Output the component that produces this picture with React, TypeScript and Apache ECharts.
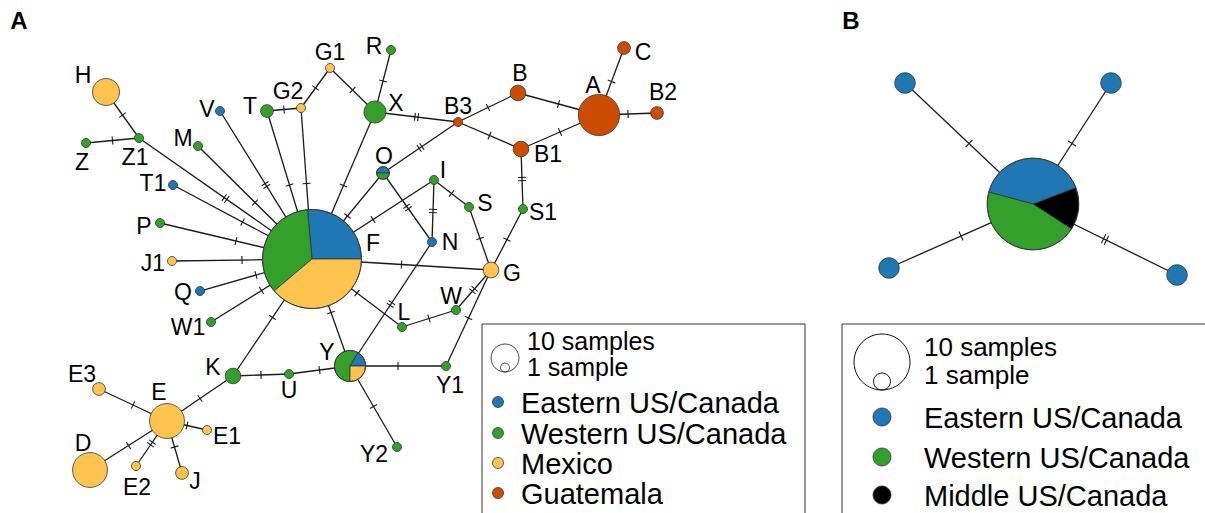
import React, { useEffect, useRef } from "react";
import * as echarts from "echarts";

// ---------- Panel A: haplotype network ----------
const hapNames = ["F","H","Z1","Z","M","V","T","G2","G1","R","X","O","T1","P","J1","Q","W1","K","U","Y","L","W","Y1","Y2","E","E3","E1","E2","J","D","C","B","A","B2","B3","B1","I","S","S1","N","G"];
const hapX = [312,106,139,86,198,220,267,301,330,391,375,383,173,160,172,200,211,233,289,350,402,456,446,397,167,99,207,136,182,90,624,518,599,657,458,521,434,469,523,432,491];
const hapY = [259,92,138,143,146,111,111,108,68,50,112,173,185,223,261,291,322,376,374,366,327,310,366,447,421,389,430,466,473,470,48,93,115,113,122,149,180,207,209,242,270];
// sample counts per region
const eastern   = [32,0,0,0,0,1,0,0,0,0,0,1,1,0,0,1,0,0,0,2,0,0,0,0,0,0,0,0,0,0,0,0,0,0,0,0,0,0,0,1,0];
const western   = [42,0,1,1,1,0,2,0,0,1,6,1,0,1,0,0,1,3,1,7,1,1,1,1,0,0,0,0,0,0,0,0,0,0,0,0,1,1,1,0,0];
const mexico    = [47,9,0,0,0,0,0,1,1,0,0,0,0,0,1,0,0,0,0,3,0,0,0,0,15,2,1,1,2,15,0,0,0,0,0,0,0,0,0,0,3];
const guatemala = [0,0,0,0,0,0,0,0,0,0,0,0,0,0,0,0,0,0,0,0,0,0,0,0,0,0,0,0,0,0,2,3,21,2,1,3,0,0,0,0,0];
// label offsets from node centre (layout)
const labelDx = [61,-23,-4,-4,-15,-13,-17,-13,0,-17,21,1,-20,-16,-19,-17,-23,-20,0,-23,2,-5,4,-23,-8,-17,20,1,13,-7,19,2,-6,6,0,27,9,16,20,18,21];
const labelDy = [-16,-17,19,19,-8,-2,-5,-17,-16,-4,-9,-17,-2,3,2,1,5,-9,16,-14,-15,-14,19,7,-29,-15,6,21,8,-27,4,-20,-30,-21,-16,5,-10,-4,3,0,3];

const edgeFrom = ["H","Z","Z1","M","V","T","T","G2","G2","G1","R","X","X","B3","B","B3","B1","A","A","B3","O","O","T1","P","J1","Q","W1","F","I","I","S","S1","B1","F","F","L","W","G","Y","N","F","F","K","U","Y","K","E","E","E","E","E"];
const edgeTo   = ["Z1","Z1","F","F","F","F","G2","F","G1","X","X","F","B3","B","A","B1","A","C","B2","O","F","N","F","F","F","F","F","I","N","S","G","G","S1","G","L","W","G","Y1","Y1","Y","Y","K","U","Y","Y2","E","E3","E1","E2","J","D"];
const edgeMutations = [1,1,2,1,2,1,1,1,1,1,1,1,2,1,1,1,1,1,1,2,1,2,1,1,1,1,1,1,2,1,1,1,2,1,1,1,2,1,1,2,1,1,1,1,1,1,1,1,2,1,1];

// ---------- Panel B ----------
const bX = [1033,905,1111,889,1177];
const bY = [204,83,83,268,275];
const bEastern = [8,1,1,1,1];
const bWestern = [9,0,0,0,0];
const bMiddle  = [3,0,0,0,0];
const bEdgeFrom = [0,0,0,0];
const bEdgeTo = [1,2,3,4];
const bEdgeMutations = [1,1,1,2];

const legendA = ["Eastern US/Canada","Western US/Canada","Mexico","Guatemala"];
const legendB = ["Eastern US/Canada","Western US/Canada","Middle US/Canada"];
const sizeLegend = ["10 samples", "1 sample"];

const C_EAST = "#1f77b4";
const C_WEST = "#33a02c";
const C_MEX = "#fec44f";
const C_GUA = "#cc4c02";
const C_MID = "#000000";
const STROKE = "#333333";
const FONT = "Liberation Sans";

function pieChildren(cx: number, cy: number, r: number, counts: number[], colors: string[], startBearing: number) {
  const total = counts.reduce((a, b) => a + b, 0);
  const nz = counts.filter((c) => c > 0).length;
  const out: any[] = [];
  if (nz <= 1) {
    const idx = counts.findIndex((c) => c > 0);
    out.push({ type: "circle", shape: { cx, cy, r }, style: { fill: colors[idx], stroke: STROKE, lineWidth: 0.8 } });
    return out;
  }
  let b = startBearing;
  counts.forEach((c, i) => {
    if (c <= 0) return;
    const span = (c / total) * 360;
    const s = ((b - span - 90) * Math.PI) / 180;
    const e = ((b - 90) * Math.PI) / 180;
    out.push({ type: "sector", shape: { cx, cy, r, r0: 0, startAngle: s, endAngle: e, clockwise: true }, style: { fill: colors[i], stroke: STROKE, lineWidth: 0.8 } });
    b -= span;
  });
  out.push({ type: "circle", shape: { cx, cy, r }, style: { fill: "none", stroke: STROKE, lineWidth: 0.8 } });
  return out;
}

function edgeChildren(p1: number[], p2: number[], m: number, half: number) {
  const dx = p2[0] - p1[0];
  const dy = p2[1] - p1[1];
  const L = Math.sqrt(dx * dx + dy * dy) || 1;
  const ux = dx / L, uy = dy / L;
  const nx = -uy, ny = ux;
  const mx = (p1[0] + p2[0]) / 2, my = (p1[1] + p2[1]) / 2;
  const out: any[] = [
    { type: "line", shape: { x1: p1[0], y1: p1[1], x2: p2[0], y2: p2[1] }, style: { stroke: "#1a1a1a", lineWidth: 1.3 } },
  ];
  for (let j = 0; j < m; j++) {
    const off = (j - (m - 1) / 2) * 3.2;
    const tx = mx + ux * off, ty = my + uy * off;
    out.push({ type: "line", shape: { x1: tx - nx * half, y1: ty - ny * half, x2: tx + nx * half, y2: ty + ny * half }, style: { stroke: "#1a1a1a", lineWidth: 1.1 } });
  }
  return out;
}

export default function App() {
  const ref = useRef<HTMLDivElement>(null);
  useEffect(() => {
    document.body.style.margin = "0";
    const chart = echarts.init(ref.current!, undefined, { renderer: "svg" });
    const idx = (n: string) => hapNames.indexOf(n);
    const edgeDataA = edgeFrom.map((f, i) => [hapX[idx(f)], hapY[idx(f)], hapX[idx(edgeTo[i])], hapY[idx(edgeTo[i])], edgeMutations[i]]);
    const edgeDataB = bEdgeFrom.map((f, i) => [bX[f], bY[f], bX[bEdgeTo[i]], bY[bEdgeTo[i]], bEdgeMutations[i]]);
    const nodeDataA = hapNames.map((_, i) => [hapX[i], hapY[i]]);
    const nodeDataB = bX.map((x, i) => [x, bY[i]]);
    const KA = 4.5, KB = 10.25;

    const legendGraphics: any[] = [];
    // panel letters
    legendGraphics.push({ type: "text", x: 19, y: 20, style: { text: "A", fontSize: 24, fontWeight: "bold", fontFamily: FONT, fill: "#000", align: "center", verticalAlign: "middle" } });
    legendGraphics.push({ type: "text", x: 851, y: 20, style: { text: "B", fontSize: 24, fontWeight: "bold", fontFamily: FONT, fill: "#000", align: "center", verticalAlign: "middle" } });
    // legend A
    legendGraphics.push({ type: "rect", shape: { x: 482, y: 324, width: 323, height: 220 }, style: { fill: "#fff", stroke: STROKE, lineWidth: 1 } });
    legendGraphics.push({ type: "circle", shape: { cx: 505, cy: 358, r: 14 }, style: { fill: "none", stroke: STROKE, lineWidth: 0.9 } });
    legendGraphics.push({ type: "circle", shape: { cx: 505, cy: 367.5, r: 4.5 }, style: { fill: "none", stroke: STROKE, lineWidth: 0.9 } });
    legendGraphics.push({ type: "text", x: 527, y: 341, style: { text: sizeLegend[0], fontSize: 25, fontFamily: FONT, fill: "#000", verticalAlign: "middle" } });
    legendGraphics.push({ type: "text", x: 527, y: 367, style: { text: sizeLegend[1], fontSize: 25, fontFamily: FONT, fill: "#000", verticalAlign: "middle" } });
    const colA = [C_EAST, C_WEST, C_MEX, C_GUA];
    const rowsA = [402, 433, 463, 493];
    legendA.forEach((t, i) => {
      legendGraphics.push({ type: "circle", shape: { cx: 498, cy: rowsA[i], r: 5.5 }, style: { fill: colA[i], stroke: STROKE, lineWidth: 0.8 } });
      legendGraphics.push({ type: "text", x: 521, y: rowsA[i] + 1, style: { text: t, fontSize: 29, fontFamily: FONT, fill: "#000", verticalAlign: "middle" } });
    });
    // legend B
    legendGraphics.push({ type: "rect", shape: { x: 842, y: 324, width: 420, height: 220 }, style: { fill: "#fff", stroke: STROKE, lineWidth: 1 } });
    legendGraphics.push({ type: "circle", shape: { cx: 882, cy: 362, r: 28 }, style: { fill: "none", stroke: "#111", lineWidth: 1 } });
    legendGraphics.push({ type: "circle", shape: { cx: 882, cy: 381.5, r: 8.5 }, style: { fill: "none", stroke: "#111", lineWidth: 1 } });
    legendGraphics.push({ type: "text", x: 924, y: 347, style: { text: sizeLegend[0], fontSize: 26, fontFamily: FONT, fill: "#000", verticalAlign: "middle" } });
    legendGraphics.push({ type: "text", x: 924, y: 375, style: { text: sizeLegend[1], fontSize: 26, fontFamily: FONT, fill: "#000", verticalAlign: "middle" } });
    const colB = [C_EAST, C_WEST, C_MID];
    const rowsB = [417, 457, 495];
    legendB.forEach((t, i) => {
      legendGraphics.push({ type: "circle", shape: { cx: 882, cy: rowsB[i], r: 9 }, style: { fill: colB[i], stroke: STROKE, lineWidth: 0.8 } });
      legendGraphics.push({ type: "text", x: 924, y: rowsB[i] + 1, style: { text: t, fontSize: 29, fontFamily: FONT, fill: "#000", verticalAlign: "middle" } });
    });

    chart.setOption({
      animation: false,
      backgroundColor: "#ffffff",
      grid: { left: 0, right: 0, top: 0, bottom: 0 },
      xAxis: { type: "value", min: 0, max: 1205, show: false },
      yAxis: { type: "value", min: 0, max: 513, inverse: true, show: false },
      graphic: { elements: legendGraphics },
      series: [
        {
          type: "custom",
          z: 1,
          data: edgeDataA,
          renderItem: (_p: any, api: any) => {
            const p1 = api.coord([api.value(0), api.value(1)]);
            const p2 = api.coord([api.value(2), api.value(3)]);
            return { type: "group", children: edgeChildren(p1, p2, api.value(4), 4) };
          },
        },
        {
          type: "custom",
          z: 1,
          data: edgeDataB,
          renderItem: (_p: any, api: any) => {
            const p1 = api.coord([api.value(0), api.value(1)]);
            const p2 = api.coord([api.value(2), api.value(3)]);
            return { type: "group", children: edgeChildren(p1, p2, api.value(4), 5) };
          },
        },
        {
          type: "custom",
          z: 2,
          data: nodeDataA,
          renderItem: (p: any, api: any) => {
            const i = p.dataIndex;
            const c = api.coord([api.value(0), api.value(1)]);
            const counts = [eastern[i], western[i], mexico[i], guatemala[i]];
            const total = counts.reduce((a, b) => a + b, 0);
            const r = KA * Math.sqrt(total);
            const children = pieChildren(c[0], c[1], r, counts, [C_EAST, C_WEST, C_MEX, C_GUA], 90);
            children.push({ type: "text", x: c[0] + labelDx[i], y: c[1] + labelDy[i], style: { text: hapNames[i], fontSize: 23, fontFamily: FONT, fill: "#000", align: "center", verticalAlign: "middle" } });
            return { type: "group", children };
          },
        },
        {
          type: "custom",
          z: 2,
          data: nodeDataB,
          renderItem: (p: any, api: any) => {
            const i = p.dataIndex;
            const c = api.coord([api.value(0), api.value(1)]);
            const counts = [bMiddle[i], bEastern[i], bWestern[i]];
            const total = counts.reduce((a, b) => a + b, 0);
            const r = KB * Math.sqrt(total);
            return { type: "group", children: pieChildren(c[0], c[1], r, counts, [C_MID, C_EAST, C_WEST], 123) };
          },
        },
      ],
    });
    return () => chart.dispose();
  }, []);
  return <div ref={ref} style={{ width: 1205, height: 513 }} />;
}
